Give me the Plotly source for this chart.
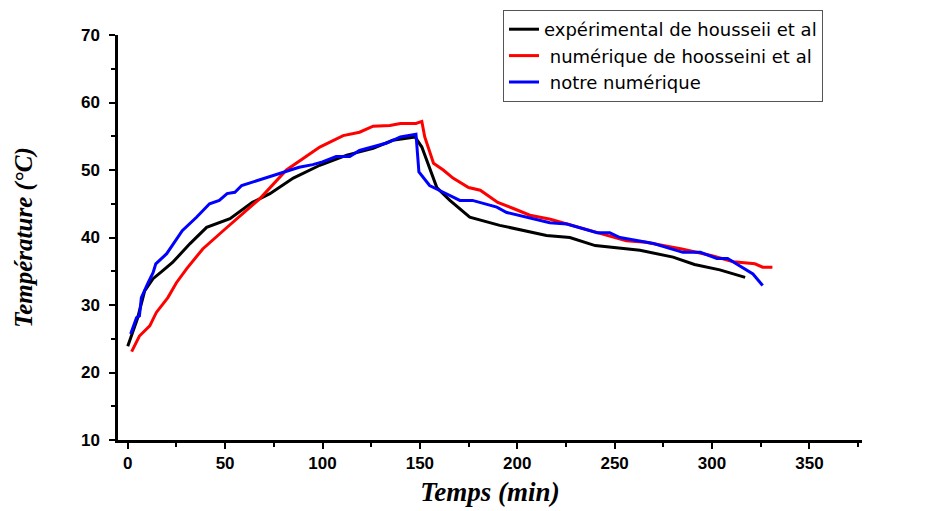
import plotly.graph_objects as go

# experimental (black)
t_exp = [0, 3, 5, 8.7, 13, 18, 23, 32, 40.5, 52.5, 64, 73, 85, 98.6, 112.5, 126, 136, 147.5,
         151, 158.7, 165.4, 175.6, 191, 215, 227, 240, 263, 280, 291, 304, 317]
T_exp = [23.9, 26.5, 28, 32.1, 33.9, 35.1, 36.3, 39.1, 41.5, 42.8, 45.2, 46.5, 48.8, 50.7, 52.2, 53.2, 54.4, 54.9,
         53.4, 47.4, 45.5, 43.0, 41.8, 40.3, 40.0, 38.8, 38.1, 37.1, 36.0, 35.2, 34.1]

# numerical Hosseini (red)
t_hos = [2, 6, 11.3, 14.7, 20.6, 25, 30.3, 38.5, 49, 59, 68, 81.5, 90, 98.6, 110.6, 119, 126, 134.6, 140, 148,
         151, 152.5, 157, 162, 167, 175, 181, 190, 198, 206.5, 217, 241, 256, 266, 284.5, 300, 311, 322, 326, 331]
T_hos = [23.1, 25.4, 26.9, 28.9, 31.1, 33.3, 35.4, 38.3, 41.0, 43.5, 45.8, 50.0, 51.7, 53.4, 55.1, 55.6, 56.5, 56.6, 56.9, 56.9,
         57.2, 54.9, 51.0, 50.0, 48.8, 47.4, 47.0, 45.2, 44.3, 43.3, 42.7, 40.7, 39.5, 39.3, 38.3, 37.3, 36.4, 36.1, 35.6, 35.6]

# our numerical (blue)
t_our = [1.5, 4.5, 6, 7, 10.3, 13, 14.4, 20, 28, 35.3, 42, 47, 51, 55, 58.5, 78, 88, 95, 100, 107, 114, 119, 133, 140,
         148, 149.5, 155, 162, 170.5, 177, 189.5, 194.6, 216.7, 225.5, 241, 247.5, 252.7, 270, 278.5, 285, 294,
         302.5, 308, 315, 321, 326]
T_our = [25.7, 28.1, 28.4, 31.1, 33.2, 34.8, 36.1, 37.6, 41.0, 43.0, 45.0, 45.5, 46.5, 46.7, 47.7, 49.5, 50.4, 50.8, 51.2, 52.0, 52.0, 52.9, 54.0, 54.9,
         55.3, 49.7, 47.7, 46.7, 45.5, 45.5, 44.5, 43.7, 42.2, 42.0, 40.7, 40.7, 40.0, 39.1, 38.4, 37.8, 37.8,
         36.9, 36.9, 35.6, 34.6, 32.9]

series_names = ["expérimental de housseii et al", " numérique de hoosseini et al", " notre numérique"]
series_colors = ["#000000", "#ff0000", "#0000ff"]

x_ticks = [0, 50, 100, 150, 200, 250, 300, 350]
y_ticks = [10, 20, 30, 40, 50, 60, 70]

fig = go.Figure()
for (xs, ys), name, col in zip([(t_exp, T_exp), (t_hos, T_hos), (t_our, T_our)], series_names, series_colors):
    fig.add_trace(go.Scatter(x=xs, y=ys, mode="lines", name=name,
                             line=dict(color=col, width=3)))

tickfont = dict(family="Arial, Liberation Sans, sans-serif", size=17, color="black", weight="bold")

fig.update_layout(
    width=925, height=511,
    margin=dict(l=110, r=71, t=27, b=79, autoexpand=False),
    plot_bgcolor="white", paper_bgcolor="white",
    legend=dict(xref="container", yref="container", x=495/925, y=1 - 2/511,
                xanchor="left", yanchor="top",
                bordercolor="#555555", borderwidth=1, bgcolor="white",
                font=dict(family="DejaVu Sans, sans-serif", size=18, color="black"),
                tracegroupgap=0, itemwidth=30),
    xaxis=dict(range=[-5, 377], tickvals=x_ticks, ticks="outside", ticklen=6, tickwidth=2,
               tickcolor="black", showline=True, linecolor="black", linewidth=2.5,
               showgrid=False, zeroline=False, tickfont=tickfont,
               minor=dict(dtick=25, tick0=0, ticks="outside", ticklen=4, tickwidth=2, tickcolor="black"),
               title=dict(text="Temps (min)", standoff=10,
                          font=dict(family="Liberation Serif, Times New Roman, serif", size=27,
                                    color="black", weight="bold", style="italic"))),
    yaxis=dict(range=[10, 70], tickvals=y_ticks, ticks="outside", ticklen=6, tickwidth=2,
               tickcolor="black", showline=True, linecolor="black", linewidth=2.5,
               showgrid=False, zeroline=False, tickfont=tickfont, ticklabelstandoff=6,
               minor=dict(dtick=5, tick0=0, ticks="outside", ticklen=4, tickwidth=2, tickcolor="black"),
               title=dict(text="Température (°C)", standoff=42,
                          font=dict(family="Liberation Serif, Times New Roman, serif", size=25,
                                    color="black", weight="bold", style="italic"))),
)

fig.write_html("out.html")
